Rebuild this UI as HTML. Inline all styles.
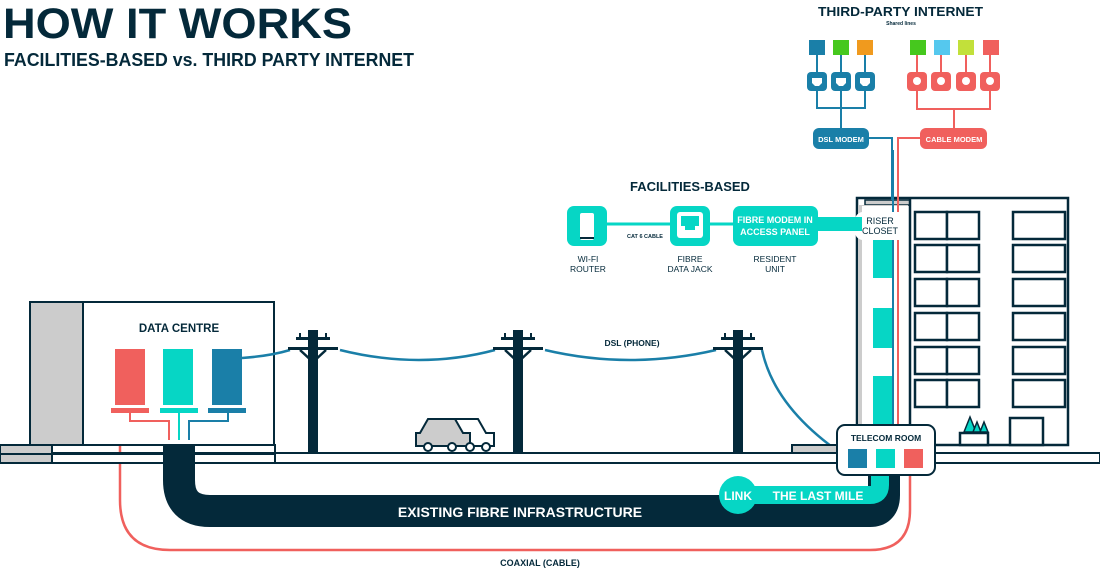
<!DOCTYPE html>
<html><head><meta charset="utf-8"><style>
html,body{margin:0;padding:0;background:#fff;}
svg{display:block;font-family:"Liberation Sans",sans-serif;font-weight:bold;}
</style></head><body>
<svg width="1100" height="569" viewBox="0 0 1100 569" xmlns="http://www.w3.org/2000/svg">
<!-- titles -->
<text x="3" y="38" font-size="43" fill="#04293a" textLength="349" lengthAdjust="spacingAndGlyphs">HOW IT WORKS</text>
<text x="4" y="66" font-size="18" fill="#04293a" textLength="410" lengthAdjust="spacingAndGlyphs">FACILITIES-BASED vs. THIRD PARTY INTERNET</text>

<!-- coaxial red line -->
<path d="M120 413 V500 Q120 550 170 550 H870 Q910 550 910 510 V470" fill="none" stroke="#f0605d" stroke-width="2.5"/>
<text x="540" y="566" font-size="9" fill="#04293a" text-anchor="middle">COAXIAL (CABLE)</text>

<!-- fibre pipe -->
<path d="M179 437 V480 Q179 511 210 511 H870 Q884 511 884 495 V470" fill="none" stroke="#04293a" stroke-width="32"/>
<rect x="163" y="437" width="32" height="20" fill="#04293a"/>
<text x="520" y="517" font-size="14" fill="#fff" text-anchor="middle">EXISTING FIBRE INFRASTRUCTURE</text>
<!-- last mile -->
<path d="M738 495 H870 Q880 495 880 485 V468" fill="none" stroke="#06d6c5" stroke-width="18"/>
<circle cx="738" cy="495" r="19" fill="#06d6c5"/>
<text x="738" y="500" font-size="12" fill="#fff" text-anchor="middle">LINK</text>
<text x="818" y="500" font-size="12" fill="#fff" text-anchor="middle">THE LAST MILE</text>

<!-- ground -->
<rect x="0" y="453" width="1100" height="10" fill="#fff" stroke="#04293a" stroke-width="2"/>
<rect x="0" y="445" width="275" height="18" fill="none" stroke="#04293a" stroke-width="2"/>
<rect x="1" y="446" width="51" height="16" fill="#ccc"/>
<line x1="52" y1="445" x2="52" y2="463" stroke="#04293a" stroke-width="2"/>
<line x1="0" y1="454" x2="275" y2="454" stroke="#04293a" stroke-width="2"/>
<rect x="163" y="437" width="32" height="27" fill="#04293a"/>

<!-- data centre -->
<rect x="30" y="302" width="244" height="143" fill="#fff" stroke="#04293a" stroke-width="2"/>
<rect x="31" y="303" width="52" height="141" fill="#ccc"/>
<line x1="83" y1="302" x2="83" y2="445" stroke="#04293a" stroke-width="2"/>
<text x="179" y="332" font-size="11.5" fill="#04293a" text-anchor="middle">DATA CENTRE</text>
<rect x="115" y="349" width="30" height="56" fill="#f0605d"/>
<rect x="163" y="349" width="30" height="56" fill="#06d6c5"/>
<rect x="212" y="349" width="30" height="56" fill="#1a7fa8"/>
<rect x="111" y="408" width="38" height="5" fill="#f0605d"/>
<rect x="160" y="408" width="38" height="5" fill="#06d6c5"/>
<rect x="208" y="408" width="38" height="5" fill="#1a7fa8"/>
<path d="M130 413 V421 H169 V440" fill="none" stroke="#f0605d" stroke-width="2"/>
<path d="M179 413 V440" fill="none" stroke="#06d6c5" stroke-width="2"/>
<path d="M228 413 V421 H189 V440" fill="none" stroke="#1a7fa8" stroke-width="2"/>

<!-- wires -->
<path d="M242 358 Q270 356 290 350" fill="none" stroke="#1a7fa8" stroke-width="2.5"/>
<path d="M340 350 Q420 370 495 350" fill="none" stroke="#1a7fa8" stroke-width="2.5"/>
<path d="M545 350 Q630 370 716 350" fill="none" stroke="#1a7fa8" stroke-width="2.5"/>
<path d="M762 350 Q775 410 848 458" fill="none" stroke="#1a7fa8" stroke-width="2.5"/>
<text x="632" y="346" font-size="8.5" fill="#04293a" text-anchor="middle">DSL (PHONE)</text>

<!-- poles -->
<g fill="#04293a" stroke="#04293a">
<g id="pole">
<rect x="308" y="330" width="10" height="123" stroke="none"/>
<rect x="296" y="337" width="34" height="3" stroke="none"/>
<rect x="288" y="347" width="50" height="3" stroke="none"/>
<path d="M300 350 L313 362 L326 350" fill="none" stroke-width="2.5"/>
<rect x="299" y="333" width="2" height="5" stroke="none"/><rect x="325" y="333" width="2" height="5" stroke="none"/>
</g>
<use href="#pole" x="205"/>
<use href="#pole" x="425"/>
</g>

<!-- car -->
<g stroke="#04293a" stroke-width="2">
<path d="M430 419 H478 L486 433 H494 V446 H458 V433 Z" fill="#fff"/>
<path d="M420 433 L428 419 H455 L463 433 H470 V446 H416 V433 Z" fill="#ccc"/>
<circle cx="428" cy="447" r="4" fill="#fff"/><circle cx="452" cy="447" r="4" fill="#fff"/>
<circle cx="470" cy="447" r="4" fill="#fff"/><circle cx="486" cy="447" r="4" fill="#fff"/>
</g>

<!-- building -->
<rect x="792" y="445" width="58" height="8" fill="#ccc" stroke="#04293a" stroke-width="2"/>
<rect x="857" y="198" width="211" height="247" fill="#fff" stroke="#04293a" stroke-width="2.5"/>
<rect x="865" y="200" width="45" height="5" fill="#ccc" stroke="#04293a" stroke-width="1.5"/>
<rect x="858" y="205" width="50" height="240" fill="#ccc"/>
<line x1="910" y1="198" x2="910" y2="445" stroke="#04293a" stroke-width="2.5"/>
<g stroke="#04293a" stroke-width="2.5" fill="#fff">
<rect x="915" y="212" width="32" height="27"/><rect x="947" y="212" width="32" height="27"/><rect x="1013" y="212" width="52" height="27"/>
<rect x="915" y="245" width="32" height="27"/><rect x="947" y="245" width="32" height="27"/><rect x="1013" y="245" width="52" height="27"/>
<rect x="915" y="279" width="32" height="27"/><rect x="947" y="279" width="32" height="27"/><rect x="1013" y="279" width="52" height="27"/>
<rect x="915" y="313" width="32" height="27"/><rect x="947" y="313" width="32" height="27"/><rect x="1013" y="313" width="52" height="27"/>
<rect x="915" y="347" width="32" height="27"/><rect x="947" y="347" width="32" height="27"/><rect x="1013" y="347" width="52" height="27"/>
<rect x="915" y="380" width="32" height="27"/><rect x="947" y="380" width="32" height="27"/><rect x="1013" y="380" width="52" height="27"/>
<rect x="1010" y="418" width="33" height="27"/>
<rect x="960" y="433" width="28" height="12"/>
</g>
<g fill="#06d6c5" stroke="#04293a" stroke-width="1.5">
<path d="M964 432 L970 417 L976 432 Z"/><path d="M973 432 L977 422 L981 432 Z"/><path d="M980 432 L984 422 L988 432 Z"/>
</g>
<!-- riser -->
<rect x="862" y="206" width="46" height="239" fill="#fff"/>
<rect x="873" y="238" width="20" height="40" fill="#06d6c5"/>
<rect x="873" y="308" width="20" height="40" fill="#06d6c5"/>
<rect x="873" y="376" width="20" height="50" fill="#06d6c5"/>
<g stroke-width="2">
<line x1="893" y1="150" x2="893" y2="430" stroke="#1a7fa8"/>
<line x1="898" y1="150" x2="898" y2="430" stroke="#f0605d"/>
</g>
<rect x="855" y="212" width="52" height="28" rx="8" fill="#fff"/>
<text x="880" y="224" font-size="9" fill="#04293a" text-anchor="middle" font-weight="normal">RISER</text>
<text x="880" y="234" font-size="9" fill="#04293a" text-anchor="middle" font-weight="normal">CLOSET</text>

<!-- telecom room -->
<rect x="837" y="425" width="98" height="50" rx="8" fill="#fff" stroke="#04293a" stroke-width="2"/>
<text x="886" y="441" font-size="8.5" fill="#04293a" text-anchor="middle">TELECOM ROOM</text>
<rect x="848" y="449" width="19" height="19" fill="#1a7fa8"/>
<rect x="876" y="449" width="19" height="19" fill="#06d6c5"/>
<rect x="904" y="449" width="19" height="19" fill="#f0605d"/>

<!-- facilities based -->
<text x="690" y="191" font-size="13" fill="#04293a" text-anchor="middle">FACILITIES-BASED</text>
<line x1="600" y1="224" x2="860" y2="224" stroke="#06d6c5" stroke-width="3"/>
<rect x="818" y="217" width="44" height="14" fill="#06d6c5"/>
<rect x="567" y="206" width="40" height="40" rx="7" fill="#06d6c5"/>
<rect x="580" y="213" width="14" height="27" rx="2" fill="#fff"/>
<rect x="580" y="237" width="14" height="2" fill="#04293a"/>
<text x="645" y="238" font-size="5.5" fill="#04293a" text-anchor="middle">CAT 6 CABLE</text>
<rect x="670" y="206" width="40" height="40" rx="7" fill="#06d6c5"/>
<rect x="677" y="212" width="26" height="26" rx="3" fill="#fff"/>
<path d="M681 216 H699 V226 H695 V230 H685 V226 H681 Z" fill="#06d6c5"/>
<rect x="733" y="206" width="85" height="40" rx="7" fill="#06d6c5"/>
<text x="775" y="223" font-size="9" fill="#fff" text-anchor="middle">FIBRE MODEM IN</text>
<text x="775" y="235" font-size="9" fill="#fff" text-anchor="middle">ACCESS PANEL</text>
<g font-size="8.5" fill="#04293a" text-anchor="middle" font-weight="normal">
<text x="588" y="262">WI-FI</text><text x="588" y="272">ROUTER</text>
<text x="690" y="262">FIBRE</text><text x="690" y="272">DATA JACK</text>
<text x="775" y="262">RESIDENT</text><text x="775" y="272">UNIT</text>
</g>

<!-- third party -->
<text x="818" y="16" font-size="12.5" fill="#04293a" textLength="165" lengthAdjust="spacingAndGlyphs">THIRD-PARTY INTERNET</text>
<text x="901" y="25" font-size="5" fill="#04293a" text-anchor="middle">Shared lines</text>
<g stroke="#1a7fa8" stroke-width="2" fill="none">
<path d="M817 55 V80 M841 55 V80 M865 55 V80 M817 88 V108 H865 V88 M841 88 V130"/>
<path d="M869 138 H892 V200"/>
</g>
<g stroke="#f0605d" stroke-width="2" fill="none">
<path d="M917 55 V80 M941 55 V80 M966 55 V80 M990 55 V80 M917 88 V109 H990 V88 M954 109 V130"/>
<path d="M922 138 H898 V200"/>
</g>
<rect x="809" y="40" width="16" height="15" fill="#1a7fa8"/>
<rect x="833" y="40" width="16" height="15" fill="#46c81e"/>
<rect x="857" y="40" width="16" height="15" fill="#f09a1e"/>
<rect x="910" y="40" width="16" height="15" fill="#46c81e"/>
<rect x="934" y="40" width="16" height="15" fill="#55c8ee"/>
<rect x="958" y="40" width="16" height="15" fill="#c2e03a"/>
<rect x="983" y="40" width="16" height="15" fill="#f0605d"/>
<g fill="#1a7fa8">
<rect x="807" y="72" width="20" height="19" rx="4"/><rect x="831" y="72" width="20" height="19" rx="4"/><rect x="855" y="72" width="20" height="19" rx="4"/>
</g>
<g fill="#fff">
<path d="M812 78 H822 V83 L819 86 H815 L812 83 Z"/><path d="M836 78 H846 V83 L843 86 H839 L836 83 Z"/><path d="M860 78 H870 V83 L867 86 H863 L860 83 Z"/>
</g>
<g fill="#f0605d">
<rect x="907" y="72" width="20" height="19" rx="4"/><rect x="931" y="72" width="20" height="19" rx="4"/><rect x="956" y="72" width="20" height="19" rx="4"/><rect x="980" y="72" width="20" height="19" rx="4"/>
</g>
<g fill="#fff"><circle cx="917" cy="81" r="4"/><circle cx="941" cy="81" r="4"/><circle cx="966" cy="81" r="4"/><circle cx="990" cy="81" r="4"/></g>
<rect x="813" y="128" width="56" height="21" rx="6" fill="#1a7fa8"/>
<text x="841" y="142" font-size="7.5" fill="#fff" text-anchor="middle">DSL MODEM</text>
<rect x="920" y="128" width="67" height="21" rx="6" fill="#f0605d"/>
<text x="954" y="142" font-size="7.5" fill="#fff" text-anchor="middle">CABLE MODEM</text>
</svg>
</body></html>
